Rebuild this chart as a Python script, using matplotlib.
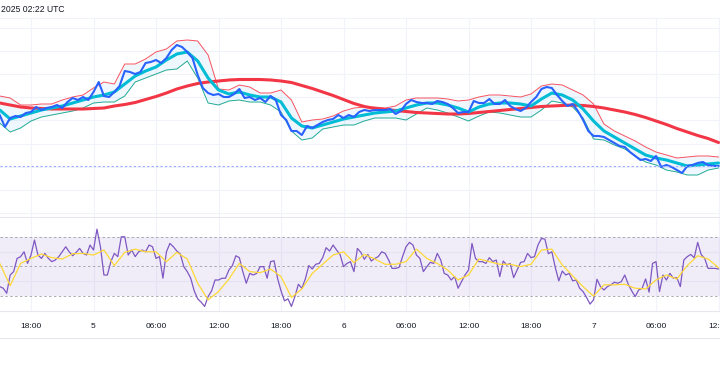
import numpy as np
import matplotlib
matplotlib.use("Agg")
import matplotlib.pyplot as plt
from matplotlib.lines import Line2D

plt.rcParams['font.family'] = ['Liberation Sans', 'DejaVu Sans']

# ---------------- data ----------------
tick_hours = [18, 24, 30, 36, 42, 48, 54, 60, 66, 72, 78, 84]
tick_labels = ["18:00", "5", "06:00", "12:00", "18:00", "6",
               "06:00", "12:00", "18:00", "7", "06:00", "12:00"]

start_hour = 15.0  # day 4, 15:00 UTC

# price, 30-minute steps
price = [85, 73, 82, 84, 83, 87, 88, 93, 90, 92,
         93, 95, 92, 98, 102, 100, 103, 100, 108, 118,
         104, 103, 108, 114, 129, 128, 126, 128, 137, 138,
         140, 137, 142, 150, 155, 153, 148, 142, 125, 112,
         107, 105, 106, 103, 103, 106, 111, 102, 103, 100,
         102, 98, 104, 100, 85, 80, 69, 69, 65, 74,
         72, 75, 78, 80, 81, 85, 82, 85, 83, 88,
         90, 89, 90, 90, 90, 91, 86, 89, 96, 100,
         98, 97, 97, 96, 99, 98, 96, 92, 87, 88,
         88, 99, 97, 97, 101, 96, 96, 100, 94, 91,
         89, 92, 98, 103, 111, 113, 112, 105, 99, 94,
         96, 89, 80, 69, 64, 64, 63, 60, 57, 54,
         53, 48, 44, 40, 41, 39, 44, 33, 35, 33,
         30, 27, 34, 35, 37, 38, 35, 34, 34]

# hourly indicator lines
ma_fast = [90, 81, 84, 87, 90, 92, 94, 97, 100, 103,
           105, 108, 116, 124, 129, 133, 140, 146, 148, 139,
           122, 110, 106, 108, 105, 103, 103, 98, 82, 74,
           72, 75, 78, 81, 83, 85, 87, 88, 89, 92,
           95, 97, 97, 95, 92, 88, 93, 96, 97, 97,
           96, 94, 101, 107, 105, 100, 91, 79, 69, 63,
           57, 51, 45, 42, 40, 37, 34, 35, 36, 37]

ma_slow = [97, 95, 93, 92, 91.5, 91, 91, 91, 91, 91.5,
           92, 94, 95.5, 97.5, 100.5, 103.5, 107, 111, 114, 116.5,
           118, 119, 120, 120.5, 120.5, 120.5, 120, 119, 117.5, 114.5,
           111.5, 108, 104.5, 100.5, 96.5, 93.5, 91.5, 90.5, 89.5, 88.5,
           87.5, 87, 86.5, 86, 86, 86.5, 87.5, 88.5, 89.5, 90.5,
           91.5, 92.5, 93.5, 94, 94.5, 95, 94.5, 93.5, 92, 90,
           88, 85.5, 82.5, 79, 75.5, 71.5, 68, 64.5, 61.5, 57.5]

band_upper = [104, 102, 95, 95, 96, 96, 100, 103, 105, 112,
              118, 116, 136, 136, 141, 148, 151, 159, 160, 159,
              145, 111, 110, 115, 113, 107, 107, 110, 100, 78,
              80, 81, 84, 89, 92, 93, 93, 92, 94, 100,
              102, 102, 102, 101, 99, 100, 103, 105, 105, 104,
              103, 106, 114, 116, 115, 110, 105, 96, 76, 69,
              64, 59, 53, 48, 45, 42, 43, 44, 44, 43]

band_lower = [77, 68, 72, 79, 83, 85, 87, 89, 92, 97,
              98, 98, 104, 118, 122, 126, 130, 131, 139, 122,
              97, 95, 99, 100, 98, 98, 95, 88, 69, 60,
              62, 71, 73, 75, 75, 79, 82, 82, 82, 80,
              86, 92, 90, 87, 83, 79, 84, 88, 87, 85,
              83, 83, 90, 99, 97, 93, 82, 61, 60, 55,
              51, 44, 38, 35, 30, 28, 25, 25, 30, 32]

last_price = 34

# RSI, 20-minute steps
rsi = [36.3, 35.2, 31.8, 44.2, 46.5, 55.5, 56.7, 60, 52.1, 57.8,
       68, 57.8, 55.5, 58.9, 55.5, 53.3, 54.4, 56.7, 60, 63.4,
       60, 57.3, 59.6, 62.3, 58.9, 57.8, 64.6, 61.2, 75.4, 63.4,
       44.2, 44.2, 53.3, 58.9, 56.7, 70.2, 70.2, 57.8, 61.2, 56.7,
       60, 61.2, 60, 64.6, 63.4, 55.5, 56.7, 42, 60, 65.7,
       63.4, 60.5, 58.5, 49.9, 46.5, 42, 33.4, 28, 25.7, 22.8,
       29.5, 33.4, 40.8, 40.8, 42, 42, 47.6, 50.6, 57.3, 56,
       46.5, 38.6, 45.3, 44.2, 45.3, 49.9, 49.9, 42, 53.3, 53.9,
       42, 33.4, 26.6, 28, 22.8, 29.5, 37.9, 35.2, 41.5, 50.6,
       48.3, 51.5, 52.1, 56, 62.8, 60.5, 64.6, 61.2, 58.2, 49.9,
       52.1, 53.3, 46.5, 62.3, 59.6, 54.9, 58.2, 53.7, 55.5, 56.7,
       60, 58.9, 54.4, 48.7, 48.7, 49.4, 56.7, 63.4, 66.4, 64.6,
       57.8, 55.5, 46.5, 49.9, 52.8, 52.1, 58.9, 54.4, 45.3, 44.2,
       40.8, 43.1, 35.2, 39.7, 44.2, 47.6, 65.7, 55.5, 53.3, 53.3,
       52.1, 56, 53.3, 54.4, 43.1, 53.7, 51, 52.1, 42.4, 47.6,
       52.8, 53.3, 58.9, 56, 56.7, 64.6, 69.1, 68.6, 58.7, 60,
       49.2, 40.2, 46.9, 44.2, 45.3, 40.2, 40.8, 35.2, 32.9, 28.9,
       24.4, 27.3, 41.3, 36.3, 34, 36.3, 37.5, 39.3, 38.6, 39.7,
       44.2, 37.9, 33.4, 29.5, 34, 35.2, 41.5, 32.5, 52.1, 53.3,
       32.9, 44.2, 40.8, 45.3, 42, 42.4, 36.3, 54.4, 56.7, 58.2,
       56, 66.4, 58.2, 55.5, 48.7, 48.7, 48.7, 48.3]

# RSI moving average, hourly
rsi_ma = [52.1, 37, 52.1, 55.5, 58.5, 56, 55.1, 58.7, 58.9, 57.8,
          61.2, 50.6, 59.6, 61.8, 60, 60, 53.3, 59.6, 55.1, 38.6,
          27.3, 32.9, 41.5, 52.1, 46.5, 45.8, 48.3, 43.1, 28.9, 34.7,
          45.3, 51.5, 57.8, 60, 52.6, 58.2, 55.1, 51.5, 51.5, 53.3,
          61.8, 55.5, 52.1, 47.6, 40.8, 44.2, 55.1, 53.3, 51.5, 51.5,
          49.9, 51.5, 61.2, 61.8, 51, 43.6, 36.3, 29.8, 37.5, 37.5,
          37.9, 35.2, 34.7, 40.8, 44.2, 41.5, 50.6, 57.3, 55.1, 49.2]

# ---------------- time axes ----------------
t_price = start_hour + 0.5 * np.arange(len(price))
t_hourly = start_hour + np.arange(len(ma_fast))
t_rsi = start_hour + np.arange(len(rsi)) / 3.0
t_rsi_ma = start_hour + np.arange(len(rsi_ma))

W, H = 720, 380
fig = plt.figure(figsize=(W / 100, H / 100), dpi=100)
fig.patch.set_facecolor('white')

ax1 = fig.add_axes([0, 1 - 217 / H, 1, (217 - 18) / H])
ax2 = fig.add_axes([0, 1 - 311 / H, 1, (311 - 218) / H])

xmin = 18 + (0 - 31) / 10.417
xmax = 18 + (720 - 31) / 10.417
grid_c = '#f0f3fa'

for ax in (ax1, ax2):
    ax.set_xlim(xmin, xmax)
    ax.set_facecolor('white')
    ax.set_xticks(tick_hours)
    ax.grid(True, color=grid_c, lw=0.8)
    ax.set_axisbelow(True)
    for s in ('left', 'right', 'top'):
        ax.spines[s].set_visible(False)
    ax.spines['bottom'].set_color('#e6e8ee')
    ax.spines['bottom'].set_linewidth(0.8)
    ax.tick_params(length=0)
    ax.set_yticklabels([])

# ---- price pane ----
ax1.set_ylim(-17, 182)
ax1.set_yticks([172 - 23.1 * k for k in range(9)])
ax1.set_yticklabels([])
ax1.set_xticklabels([])
ax1.fill_between(t_hourly, band_lower, band_upper, color='#2196f3', alpha=0.07, lw=0)
ax1.plot(t_hourly, band_upper, color='#f7525f', lw=0.7)
ax1.plot(t_hourly, band_lower, color='#22ab94', lw=0.7)
ax1.plot(t_hourly, ma_slow, color='#f23645', lw=2.2, solid_capstyle='round')
ax1.plot(t_hourly, ma_fast, color='#00bcd4', lw=2.2, solid_capstyle='round')
ax1.plot(t_price, price, color='#2962ff', lw=1.5)
ax1.axhline(last_price, color='#9fa8ff', lw=0.8, ls=(0, (2, 2)))

# ---- RSI pane ----
ax2.set_ylim(19.7, 83)
ax2.set_yticks([40, 60])
ax2.set_yticklabels([])
ax2.axhspan(30, 70, color='#7e57c2', alpha=0.1, lw=0)
for lvl in (70, 50, 30):
    ax2.axhline(lvl, color='#9598a1', lw=0.7, ls=(0, (2.5, 2.5)), alpha=0.8)
ax2.plot(t_rsi, rsi, color='#7e57c2', lw=0.9)
ax2.plot(t_rsi_ma, rsi_ma, color='#fdd835', lw=0.9)
ax2.set_xticklabels(tick_labels)
ax2.tick_params(axis='x', labelsize=6, labelcolor='#131722', pad=8.5)

# header text and separators
fig.text(1 / W, 1 - 10 / H, "2025 02:22 UTC", fontsize=6.2, color='#131722',
         ha='left', va='center')
fig.add_artist(Line2D([0, 1], [1 - 338 / H] * 2, color='#e6e8ee', lw=0.8))
fig.add_artist(Line2D([0, 1], [1 - 18 / H] * 2, color='#f0f3fa', lw=0.8))

fig.savefig('out.png', dpi=100, facecolor='white')
